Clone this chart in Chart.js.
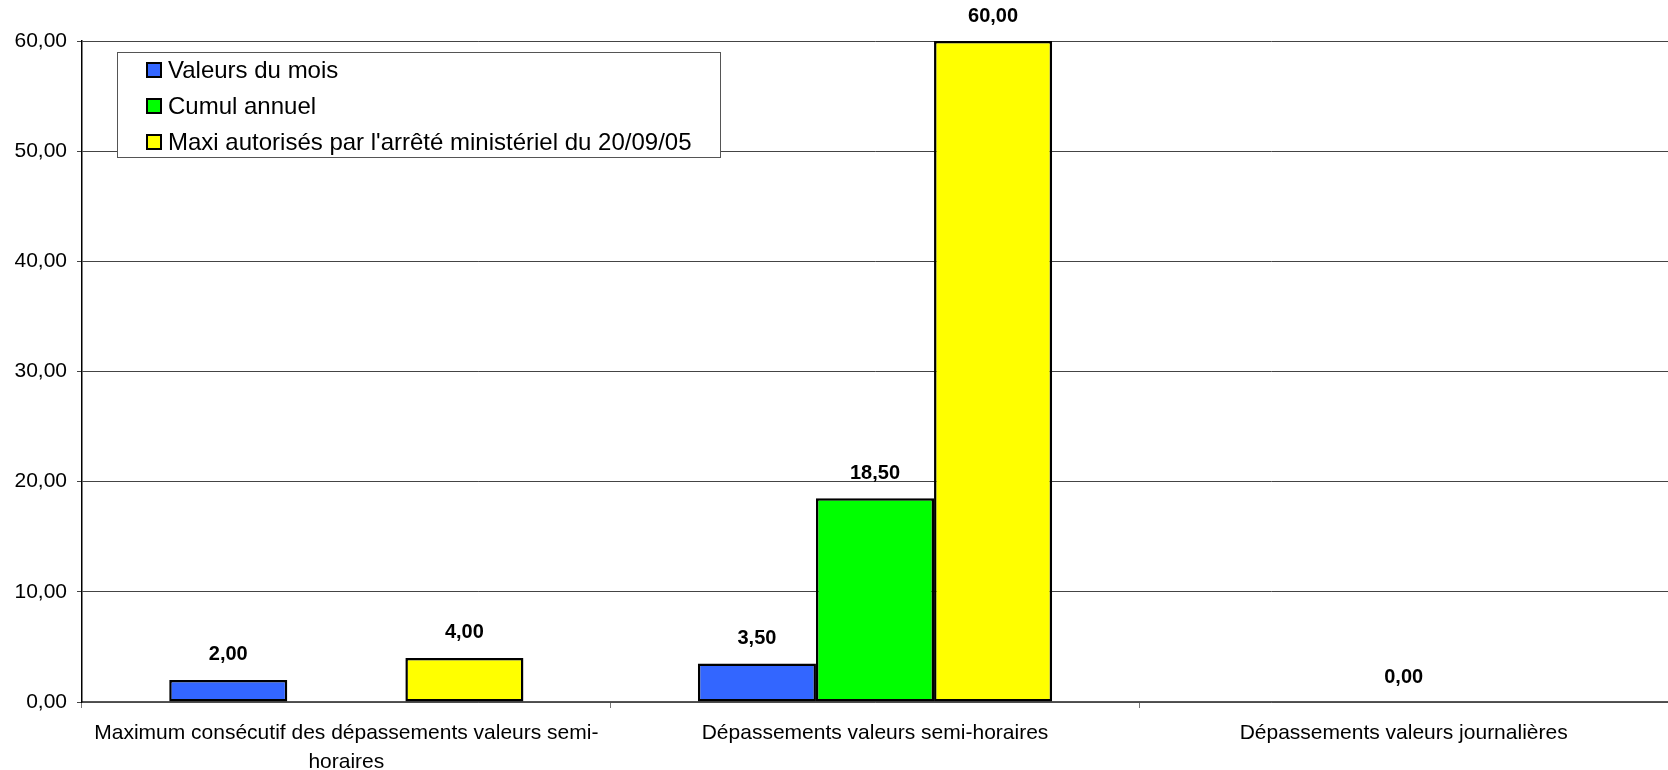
<!DOCTYPE html>
<html>
<head>
<meta charset="utf-8">
<script src="https://cdn.jsdelivr.net/npm/chart.js@4.4.1/dist/chart.umd.min.js"></script>
<style>
  html, body { margin: 0; padding: 0; background: #fff; }
  #wrap { width: 1668px; height: 770px; position: relative; }
</style>
</head>
<body>
<div id="wrap"><canvas id="chart"></canvas></div>
<script>
const categories = [
  ["Maximum consécutif des dépassements valeurs semi-", "horaires"],
  "Dépassements valeurs semi-horaires",
  "Dépassements valeurs journalières",
];
const valeursMois = [2.0, 3.5, null];
const cumulAnnuel = [null, 18.5, 0.0];
const maxiAutorises = [4.0, 60.0, null];
const seriesNames = [
  "Valeurs du mois",
  "Cumul annuel",
  "Maxi autorisés par l'arrêté ministériel du 20/09/05",
];
const yTicks = [0, 10, 20, 30, 40, 50, 60];

const fmt = new Intl.NumberFormat("fr-FR", {
  minimumFractionDigits: 2,
  maximumFractionDigits: 2,
});

// Cores
var cBlue = "#3366FF";
var cGreen = "#00FF00";
var cYellow = "#FFFF00";
var font = "'Liberation Sans', Arial, sans-serif";

// valeurs au-dessus des barres
const valueLabels = {
  id: "valueLabels",
  afterDatasetsDraw(chart) {
    const ctx = chart.ctx;
    ctx.save();
    ctx.font = "bold 20px " + font;
    ctx.fillStyle = "#000";
    ctx.textAlign = "center";
    ctx.textBaseline = "middle";
    chart.data.datasets.forEach((ds, di) => {
      const meta = chart.getDatasetMeta(di);
      meta.data.forEach((bar, k) => {
        const v = ds.data[k];
        if (v === null || v === undefined) return;
        ctx.fillText(fmt.format(v), bar.x, bar.y - 25);
      });
    });
    ctx.restore();
  },
};

// légende dans la zone du graphique
const boxLegend = {
  id: "boxLegend",
  afterDraw(chart) {
    const ctx = chart.ctx;
    const x = 117, y = 52, w = 603, h = 105;
    ctx.save();
    ctx.fillStyle = "#fff";
    ctx.fillRect(x, y, w, h);
    ctx.strokeStyle = "#555";
    ctx.lineWidth = 1;
    ctx.strokeRect(x + 0.5, y + 0.5, w, h);
    ctx.font = "24px " + font;
    ctx.textBaseline = "middle";
    chart.data.datasets.forEach((ds, i) => {
      const cy = y + 18 + i * 36;
      ctx.fillStyle = ds.backgroundColor;
      ctx.fillRect(x + 30, cy - 7, 14, 14);
      ctx.strokeStyle = "#000";
      ctx.lineWidth = 2;
      ctx.strokeRect(x + 30, cy - 7, 14, 14);
      ctx.fillStyle = "#000";
      ctx.fillText(ds.label, x + 51, cy + 1);
    });
    ctx.restore();
  },
};

const ctx = document.getElementById("chart").getContext("2d");
new Chart(ctx, {
  type: "bar",
  data: {
    labels: categories,
    datasets: [
      { label: seriesNames[0], data: valeursMois, backgroundColor: cBlue },
      { label: seriesNames[1], data: cumulAnnuel, backgroundColor: cGreen },
      { label: seriesNames[2], data: maxiAutorises, backgroundColor: cYellow },
    ].map((d) => ({
      ...d,
      borderColor: "#000",
      borderWidth: 2.5,
      borderSkipped: false,
      categoryPercentage: 0.67,
      barPercentage: 1.0,
    })),
  },
  options: {
    responsive: true,
    maintainAspectRatio: false,
    animation: false,
    layout: { padding: { top: 41, right: 0, left: 0, bottom: 0 } },
    scales: {
      x: {
        grid: {
          offset: true,
          drawOnChartArea: false,
          color: "#777",
          tickLength: 6,
        },
        border: { color: "#555", width: 1.5 },
        ticks: {
          color: "#000",
          font: { family: font, size: 21, lineHeight: 1.38 },
          padding: 11,
          maxRotation: 0,
          autoSkip: false,
        },
        afterFit: (axis) => {
          axis.height = 68;
        },
      },
      y: {
        min: 0,
        max: 60,
        afterBuildTicks: (axis) => {
          axis.ticks = yTicks.map((v) => ({ value: v }));
        },
        grid: { color: "#444", lineWidth: 1, tickLength: 5 },
        border: { color: "#000", width: 1.5 },
        ticks: {
          color: "#000",
          font: { family: font, size: 21 },
          padding: 10,
          callback: (v) => fmt.format(v),
        },
        afterFit: (axis) => {
          axis.width = 82;
        },
      },
    },
    plugins: {
      legend: { display: false },
      tooltip: { enabled: false },
    },
  },
  plugins: [valueLabels, boxLegend],
});
</script>
</body>
</html>
